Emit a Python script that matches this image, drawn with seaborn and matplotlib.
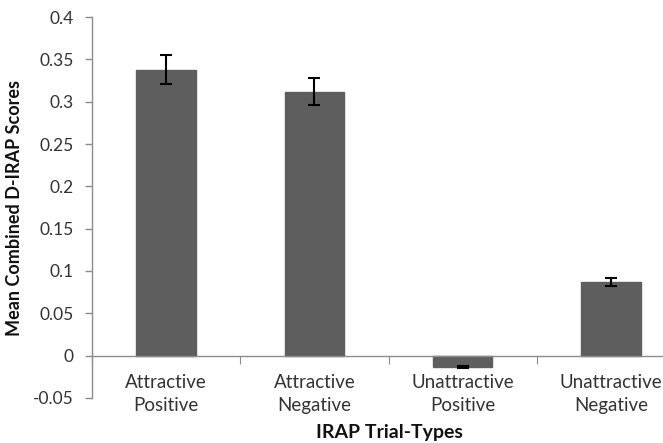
import matplotlib
matplotlib.use("Agg")
import matplotlib.pyplot as plt
import seaborn as sns
import pandas as pd
import numpy as np

categories = ["Attractive\nPositive", "Attractive\nNegative", "Unattractive\nPositive", "Unattractive\nNegative"]
means = [0.338, 0.312, -0.013, 0.087]
errors = [0.017, 0.016, 0.001, 0.0045]
yticks = [-0.05, 0, 0.05, 0.1, 0.15, 0.2, 0.25, 0.3, 0.35, 0.4]
ytick_labels = ["-0.05", "0", "0.05", "0.1", "0.15", "0.2", "0.25", "0.3", "0.35", "0.4"]

sns.set_style("white")
plt.rcParams['font.family'] = ['Lato', 'DejaVu Sans']

df = pd.DataFrame({"cat": categories, "mean": means})

fig = plt.figure(figsize=(6.63, 4.43), dpi=100)
# the plot area runs past the right edge of the image, as in the reference
ax = fig.add_axes([92 / 663, 0.1016, 593 / 663, 0.86])

sns.barplot(data=df, x="cat", y="mean", color="#5e5e5e", saturation=1, width=0.4, ax=ax, errorbar=None)
for p in ax.patches:
    p.set_edgecolor("#5e5e5e")
xs = np.arange(len(categories))
ax.errorbar(xs, means, yerr=errors, fmt="none", ecolor="black", elinewidth=1.5, capsize=4, capthick=1.5)

ax.set_ylim(-0.05, 0.4)
ax.set_xlim(-0.5, len(categories) - 0.5)
ax.set_yticks(yticks)
ax.set_yticklabels(ytick_labels, fontsize=12.5, color="#333333")
ax.tick_params(axis="y", length=5, color="#8c8c8c", width=1, direction="out", pad=8, left=True)

ax.spines["top"].set_visible(False)
ax.spines["right"].set_visible(False)
ax.spines["bottom"].set_position(("data", 0))
for s in ["left", "bottom"]:
    ax.spines[s].set_color("#8c8c8c")
    ax.spines[s].set_linewidth(1)

# category boundaries as major ticks, labels on minor ticks
ax.set_xticks(np.arange(-0.5, len(categories), 1.0))
ax.set_xticklabels([""] * (len(categories) + 1))
ax.set_xticks(xs, minor=True)
ax.set_xticklabels(categories, minor=True, fontsize=13.5, color="#333333", linespacing=1.45)
ax.tick_params(axis="x", which="major", length=6, color="#8c8c8c", direction="out", bottom=True)
ax.tick_params(axis="x", which="minor", length=0, pad=13)

ax.set_ylabel("Mean Combined D-IRAP Scores", fontsize=13, fontweight="bold", color="#111111", labelpad=7)
ax.set_xlabel("")
fig.text(389 / 663, 1 - 438 / 443, "IRAP Trial-Types", ha="center", va="baseline", fontsize=14, fontweight="bold", color="#111111")

fig.savefig("out.png", dpi=100)
